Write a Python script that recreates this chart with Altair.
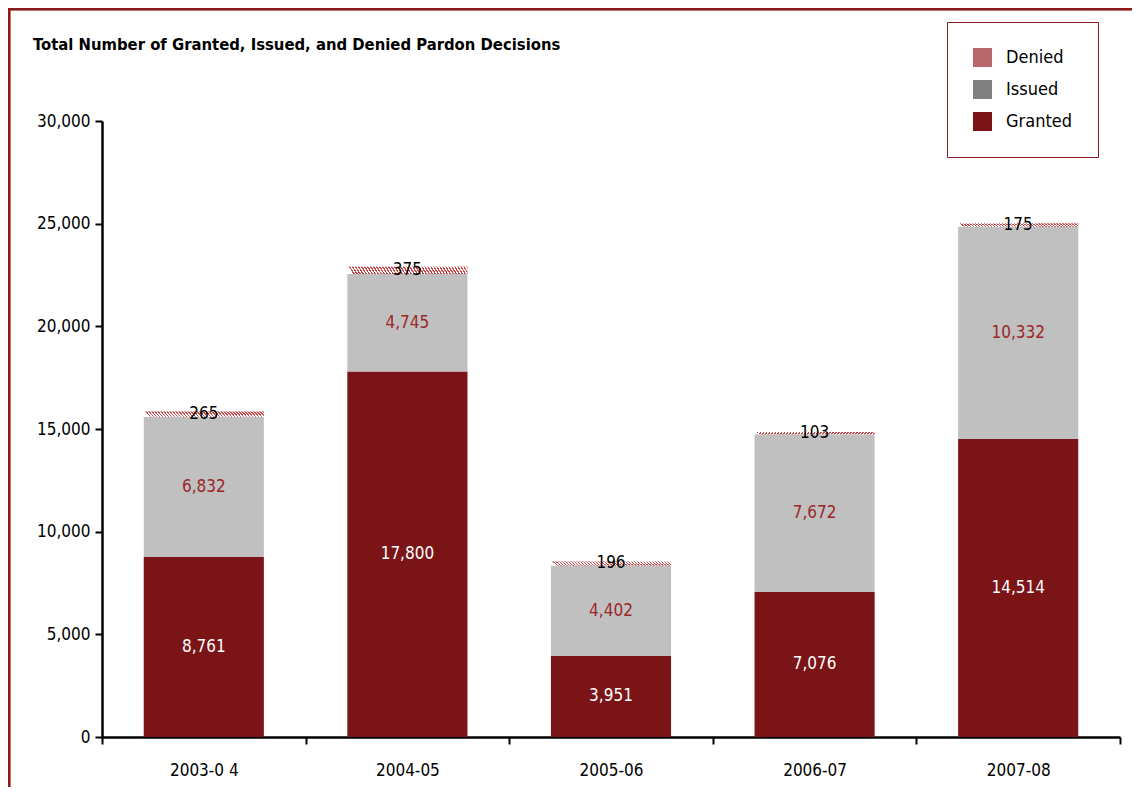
import altair as alt
import pandas as pd

years = ["2003-0 4", "2004-05", "2005-06", "2006-07", "2007-08"]
granted = [8761, 17800, 3951, 7076, 14514]
issued = [6832, 4745, 4402, 7672, 10332]
denied = [265, 375, 196, 103, 175]

series = ["Denied", "Issued", "Granted"]
legend_colors = ["#b8676a", "#808080", "#7b1416"]
bar_fill = {"Granted": "#7b1416", "Issued": "#c0c0c0", "Denied": "#ffffff"}
text_fill = {"Granted": "#ffffff", "Issued": "#9b2626", "Denied": "#000000"}

FONT = "Liberation Sans Narrow, Arial Narrow, DejaVu Sans Condensed, sans-serif"

rows = []
for i, yr in enumerate(years):
    base = 0
    for s, v in (("Granted", granted[i]), ("Issued", issued[i]), ("Denied", denied[i])):
        rows.append({"year": yr, "series": s, "value": v, "y0": base, "y1": base + v,
                     "ymid": base + v / 2, "label": f"{v:,}",
                     "fill": bar_fill[s], "tfill": text_fill[s]})
        base += v
df = pd.DataFrame(rows)

xscale = alt.Scale(paddingInner=0, paddingOuter=0)
xaxis = alt.Axis(labelAngle=0, tickBand="extent", tickSize=7, tickWidth=2,
                 domainWidth=2.5, domainColor="black", tickColor="black",
                 labelFont=FONT, labelFontSize=17, labelColor="black",
                 labelPadding=18, grid=False)
xenc = alt.X("year:N", sort=years, title=None, scale=xscale, axis=xaxis)
yscale = alt.Scale(domain=[0, 30000], nice=False)
yaxis = alt.Axis(values=list(range(0, 30001, 5000)), format=",.0f", grid=False,
                 tickSize=7, tickWidth=2, domainWidth=2.5, domainColor="black",
                 tickColor="black", labelFont=FONT, labelFontSize=17,
                 labelColor="black", labelPadding=5)

BW = alt.RelativeBandSize(0.59)
base = alt.Chart(df)

bars = base.transform_filter(alt.datum.series != "Denied").mark_bar(width=BW).encode(
    x=xenc,
    y=alt.Y("y0:Q", scale=yscale, title=None, axis=yaxis),
    y2="y1:Q",
    fill=alt.Fill("fill:N", scale=None),
)

n = 40
stops = []
for k in range(n):
    a = k / n
    b = (k + 0.5) / n
    c = (k + 1) / n
    stops += [alt.GradientStop(offset=a, color="#ffffff"),
              alt.GradientStop(offset=b, color="#ffffff"),
              alt.GradientStop(offset=b, color="#c8484a"),
              alt.GradientStop(offset=c - 0.0001, color="#c8484a"),
              alt.GradientStop(offset=c, color="#ffffff")]
grad = alt.LinearGradient(gradient="linear", stops=stops, x1=0, y1=0.04, x2=1, y2=0)

den = base.transform_filter(alt.datum.series == "Denied").mark_bar(fill=grad, width=BW).encode(
    x=xenc, y=alt.Y("y0:Q", scale=yscale, title=None, axis=yaxis), y2="y1:Q")

labels = base.mark_text(font=FONT, fontSize=17, baseline="middle").encode(
    x=xenc, y=alt.Y("ymid:Q", scale=yscale, title=None, axis=yaxis),
    text="label:N", fill=alt.Fill("tfill:N", scale=None))

leg_df = pd.DataFrame({"series": series})
legend_layer = alt.Chart(leg_df).mark_square(opacity=0).encode(
    color=alt.Color("series:N",
                    scale=alt.Scale(domain=series, range=legend_colors),
                    legend=alt.Legend(title=None, orient="none", legendX=845, legendY=-99,
                                      symbolType="square", symbolSize=360, symbolOpacity=1,
                                      symbolStrokeWidth=0,
                                      labelFont=FONT, labelFontSize=18, labelColor="black",
                                      labelOffset=14, rowPadding=13, padding=26,
                                      strokeColor="#8b1a1a", fillColor="white"))
)

frame = alt.Chart(leg_df).mark_rect(fillOpacity=0, stroke="#8b1a1a", strokeWidth=2.5).encode(
    x=alt.value(-93), x2=alt.value(1200), y=alt.value(-112), y2=alt.value(900))

chart = alt.layer(frame, bars, den, labels, legend_layer).properties(
    width=1018, height=616,
    title=alt.TitleParams("Total Number of Granted, Issued, and Denied Pardon Decisions",
                          anchor="start", frame="group", dx=-69, offset=0, dy=46,
                          font=FONT, fontSize=16.5, fontWeight="bold", color="black"),
    autosize=alt.AutoSizeParams(type="none"),
    padding={"left": 94, "top": 113, "right": 12, "bottom": 50},
    background="white",
).configure_view(stroke=None).configure_axis(grid=False)

chart.save("out.html", embed_options={"renderer": "svg", "actions": False})
